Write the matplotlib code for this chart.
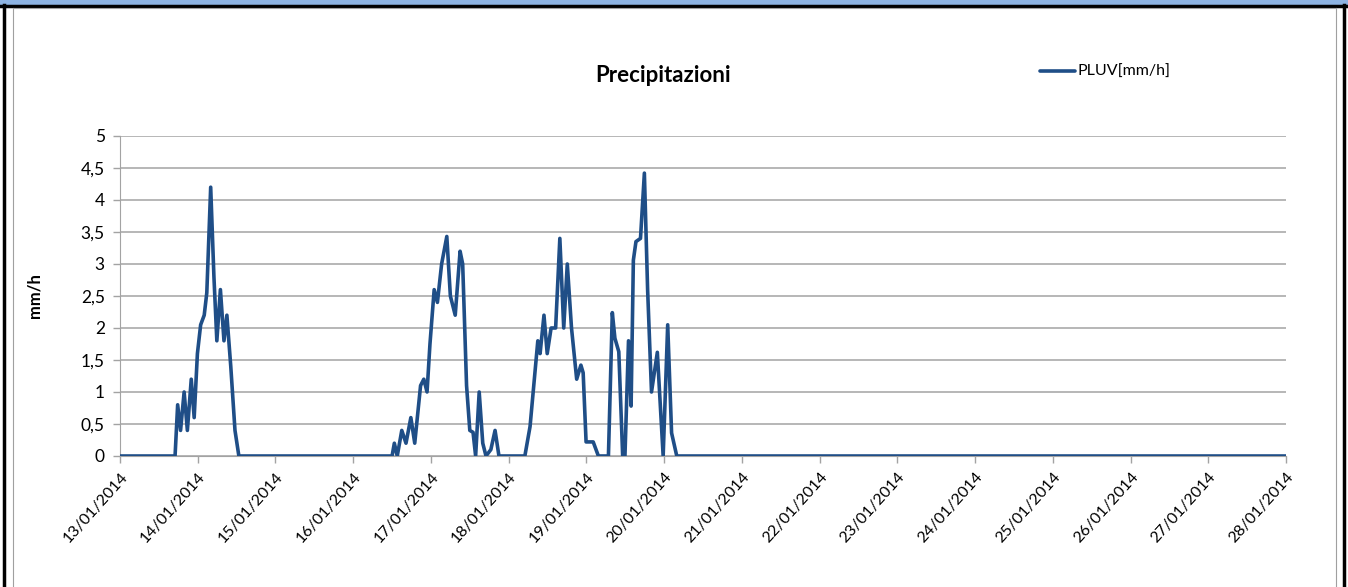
import datetime as dt
import matplotlib
matplotlib.use("Agg")
import matplotlib.pyplot as plt
import matplotlib.dates as mdates
from matplotlib.patches import Rectangle

# Data: hours since 13/01/2014 00:00 and rain [mm/h]
start = dt.datetime(2014, 1, 13)
hours = [0, 17.0, 17.8, 18.7, 19.8, 20.8, 22.0, 22.9, 23.9, 24.9, 26.0, 26.8,
         28.0, 29.0, 29.9, 31.0, 32.1, 33.0, 34.2, 35.5, 36.7,
         84.0, 84.7, 85.6, 87.0, 88.3, 89.8, 91.0, 92.8, 93.8, 94.8, 95.7,
         97.0, 98.0, 99.3, 100.9, 102.0, 103.5, 105.0, 105.8, 107.0, 108.0,
         109.0, 109.8, 110.9, 112.0, 113.0, 114.5, 115.8, 117.0,
         125.0, 126.6, 129.0, 129.7, 130.9, 131.9, 133.1, 134.5, 135.8,
         137.0, 138.1, 139.4, 141.0, 142.3, 143.0, 143.9, 146.1, 147.7,
         150.8, 152.0, 152.8, 154.0, 155.2, 155.9, 157.0, 157.8, 158.5,
         159.3, 160.7, 161.9, 162.9, 164.1, 165.9, 167.7, 169.1, 170.3,
         171.9, 360.0]
pluv = [0, 0, 0.8, 0.4, 1.0, 0.4, 1.2, 0.6, 1.6, 2.05, 2.2, 2.55,
        4.2, 2.8, 1.8, 2.6, 1.8, 2.2, 1.4, 0.4, 0,
        0, 0.2, 0, 0.4, 0.2, 0.6, 0.2, 1.1, 1.2, 1.0, 1.75,
        2.6, 2.4, 3.0, 3.43, 2.5, 2.2, 3.2, 3.0, 1.1, 0.4,
        0.37, 0, 1.0, 0.2, 0, 0.1, 0.4, 0,
        0, 0.46, 1.8, 1.6, 2.2, 1.6, 2.0, 2.0, 3.4,
        2.0, 3.0, 2.0, 1.2, 1.42, 1.3, 0.22, 0.22, 0,
        0, 2.24, 1.84, 1.63, 0, 0, 1.8, 0.78, 3.06,
        3.35, 3.4, 4.42, 2.6, 1.0, 1.62, 0, 2.05, 0.36,
        0, 0]
y_ticks = [0, 0.5, 1, 1.5, 2, 2.5, 3, 3.5, 4, 4.5, 5]
y_labels = ["0", "0,5", "1", "1,5", "2", "2,5", "3", "3,5", "4", "4,5", "5"]

times = [start + dt.timedelta(hours=h) for h in hours]
end = start + dt.timedelta(days=15)

plt.rcParams['font.family'] = ['Lato', 'DejaVu Sans']
fig = plt.figure(figsize=(13.48, 5.87), dpi=100)
W, H = 1348, 587

# frame: blue header strip, black borders, gray inner border
fig.patches.append(Rectangle((0, 1 - 5 / H), 1, 5 / H, transform=fig.transFigure,
                             facecolor="#8DB3E2", edgecolor="none", zorder=0))
fig.add_artist(plt.Line2D([0, 1], [1 - 6 / H, 1 - 6 / H], transform=fig.transFigure,
                          color="black", lw=2.5))
fig.add_artist(plt.Line2D([4 / W, 4 / W], [0, 1 - 5 / H], transform=fig.transFigure,
                          color="black", lw=2.5))
fig.add_artist(plt.Line2D([1344 / W, 1344 / W], [0, 1 - 5 / H], transform=fig.transFigure,
                          color="black", lw=2.5))
fig.add_artist(plt.Line2D([13 / W, 13 / W], [0, 1 - 8 / H], transform=fig.transFigure,
                          color="#A0A0A0", lw=0.8))
fig.add_artist(plt.Line2D([1336 / W, 1336 / W], [0, 1 - 8 / H], transform=fig.transFigure,
                          color="#A0A0A0", lw=0.8))
fig.add_artist(plt.Line2D([13 / W, 1336 / W], [1 - 8 / H, 1 - 8 / H], transform=fig.transFigure,
                          color="#A0A0A0", lw=0.8))

ax = fig.add_axes([120 / W, 1 - 456 / H, (1286 - 120) / W, (456 - 136) / H])
ax.plot(times, pluv, color="#1F4E87", lw=2.6, solid_joinstyle="round",
        solid_capstyle="round", label="PLUV[mm/h]", zorder=3)

ax.set_xlim(start, end)
ax.set_ylim(0, 5)
ax.set_yticks(y_ticks)
ax.set_yticklabels(y_labels, fontsize=12.5)
ax.yaxis.grid(True, color="#A3A3A3", lw=1.1)
ax.set_axisbelow(True)

ax.xaxis.set_major_locator(mdates.DayLocator())
ax.xaxis.set_major_formatter(mdates.DateFormatter("%d/%m/%Y"))
for lab in ax.get_xticklabels():
    lab.set_rotation(48)
    lab.set_ha("right")
    lab.set_va("top")
    lab.set_rotation_mode("anchor")
    lab.set_fontsize(11.5)

for side in ["top", "right"]:
    ax.spines[side].set_visible(False)
for side in ["left", "bottom"]:
    ax.spines[side].set_color("#A3A3A3")
ax.tick_params(axis="both", color="#A3A3A3", length=5, width=1)
ax.tick_params(axis="x", pad=5)
ax.tick_params(axis="y", pad=6)

ax.set_ylabel("mm/h", fontsize=12, fontweight="bold")
ax.yaxis.set_label_coords(-78 / 1166, 0.5)

fig.text(663 / W, 1 - 75 / H, "Precipitazioni", fontsize=16, fontweight="bold",
         ha="center", va="center")
ax.legend(loc="center left", bbox_to_anchor=(1040 / W, 1 - 72 / H),
          bbox_transform=fig.transFigure, frameon=False, fontsize=11.5,
          handlelength=2.2, handletextpad=0.15, borderpad=0, borderaxespad=0)

fig.savefig("out.png", dpi=100)
